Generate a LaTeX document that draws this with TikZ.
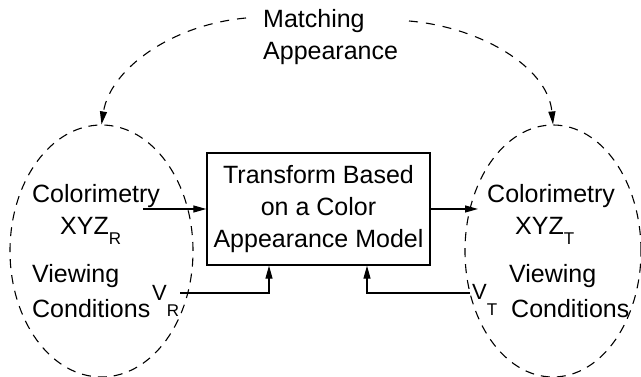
\documentclass[tikz,border=0pt]{standalone}
\usepackage{fontspec}
\setmainfont{Liberation Sans}
\usetikzlibrary{positioning,shapes.geometric,arrows.meta}
\tikzstyle{lbl}=[inner sep=0, anchor=base west, font=\fontsize{25}{32}\selectfont]
\tikzstyle{vlbl}=[inner sep=0, anchor=base west, font=\fontsize{22}{26}\selectfont]
\tikzstyle{oval}=[ellipse, draw, dash pattern=on 9pt off 7pt, line width=1.1pt, inner sep=0, minimum height=252pt]
\tikzstyle{modelbox}=[rectangle, draw, line width=1.3pt, minimum width=223pt, minimum height=112pt, align=center, font=\fontsize{25}{32}\selectfont]
\tikzstyle{feed}=[line width=1.2pt, -{Triangle[length=13pt,width=7pt]}]
\tikzstyle{match}=[dash pattern=on 9pt off 8pt, line width=1.1pt, -{Triangle[length=13pt,width=7pt]}]
\newcommand{\lowsub}[2]{\raisebox{-#1}{\fontsize{17}{17}\selectfont #2}}

\begin{document}
\begin{tikzpicture}[x=1pt,y=1pt]
    \useasboundingbox (0,0) rectangle (641,377);

    % reference and test conditions
    \node (refL) [oval, minimum width=183pt] at (101.5,126) {};
    \node (refR) [oval, minimum width=176pt] at (553,126) {};

    \node (model) [modelbox] at (318.5,168) {Transform Based\\on a Color\\Appearance Model};

    \node (title) [lbl, anchor=north west, align=left] at (263,368) {Matching\\Appearance};

\node (colL) [lbl] at (32,174) {Colorimetry};
\node (xyzL) [lbl] at (60,142) {XYZ\lowsub{10pt}{R}};
\node (viewL) [lbl] at (32,94) {Viewing};
\node (condL) [lbl] at (32,59) {Conditions};
\node (vR) [vlbl] at (152,76) {V\lowsub{16pt}{R}};

\node (colR) [lbl] at (487,174) {Colorimetry};
\node (xyzR) [lbl] at (515,142) {XYZ\lowsub{10pt}{T}};
\node (viewR) [lbl] at (509,94) {Viewing};
\node (condR) [lbl] at (511,59) {Conditions};
\node (vT) [vlbl] at (472,77) {V\lowsub{16pt}{T}};

    % connectors
    \coordinate (inL) at (143,168);
    \coordinate (outR) at (478,168);
    \coordinate (vRend) at (180,84);
    \coordinate (vTend) at (470,84);
    \coordinate (arcL) at (246,359);
    \coordinate (arcR) at (409,356);

    \draw[feed] (inL) -- (model.west);
    \draw[feed] (model.east) -- (outR);
    \draw[feed] (vRend) -| ([xshift=-49.5pt]model.south);
    \draw[feed] (vTend) -| ([xshift=48.5pt]model.south);

    \draw[match] (arcL) .. controls (170,352) and (110,307) .. (refL.north);
    \draw[match] (arcR) .. controls (480,350) and (548,310) .. (refR.north);
\end{tikzpicture}
\end{document}
